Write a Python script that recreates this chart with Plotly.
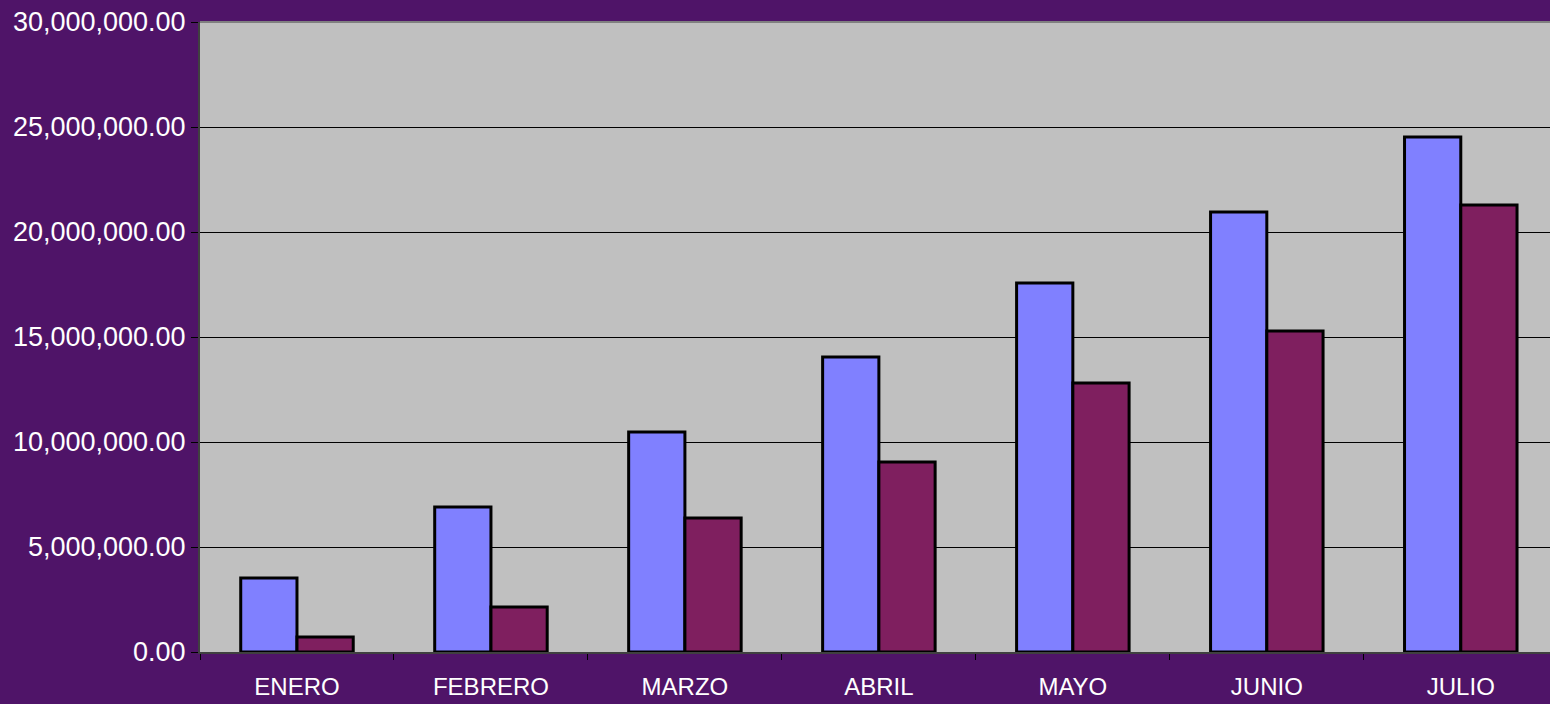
import plotly.graph_objects as go

meses = ["ENERO", "FEBRERO", "MARZO", "ABRIL", "MAYO", "JUNIO", "JULIO"]
serie_a = [3520000, 6900000, 10480000, 14050000, 17570000, 20950000, 24520000]
serie_b = [710000, 2140000, 6380000, 9050000, 12810000, 15290000, 21290000]
y_ticks = [0, 5000000, 10000000, 15000000, 20000000, 25000000, 30000000]

fig = go.Figure()
fig.add_bar(x=meses, y=serie_a, name="Serie 1",
            marker=dict(color="#8080ff", line=dict(color="black", width=3)))
fig.add_bar(x=meses, y=serie_b, name="Serie 2",
            marker=dict(color="#7f1f5f", line=dict(color="black", width=3)))

fig.update_layout(
    width=1550, height=704,
    margin=dict(l=200, r=0, t=22, b=52),
    paper_bgcolor="#4f1468",
    plot_bgcolor="#c0c0c0",
    barmode="group", bargap=0.42, bargroupgap=0,
    showlegend=False,
    font=dict(family="Liberation Sans, Arial", color="white"),
)
fig.update_xaxes(
    range=[-0.5, 6.46],
    tickson="boundaries", ticks="outside", ticklen=6, tickcolor="black",
    showline=True, linecolor="#404040", linewidth=2,
    tickfont=dict(size=24, color="white"),
    ticklabelstandoff=12,
    showgrid=False, automargin=False,
)
fig.update_yaxes(
    range=[0, 30000000],
    tickvals=y_ticks, tickformat=",.2f",
    ticks="outside", ticklen=7, tickcolor="black",
    showline=True, linecolor="#404040", linewidth=2,
    gridcolor="black", gridwidth=1,
    tickfont=dict(size=27, color="white"),
    zeroline=False, automargin=False,
)
fig.add_shape(type="line", xref="paper", yref="paper", x0=0, x1=1, y0=1, y1=1,
              line=dict(color="#808080", width=2))

fig.write_html("out.html", config={"displayModeBar": False},
               post_script="document.body.style.margin='0';")
